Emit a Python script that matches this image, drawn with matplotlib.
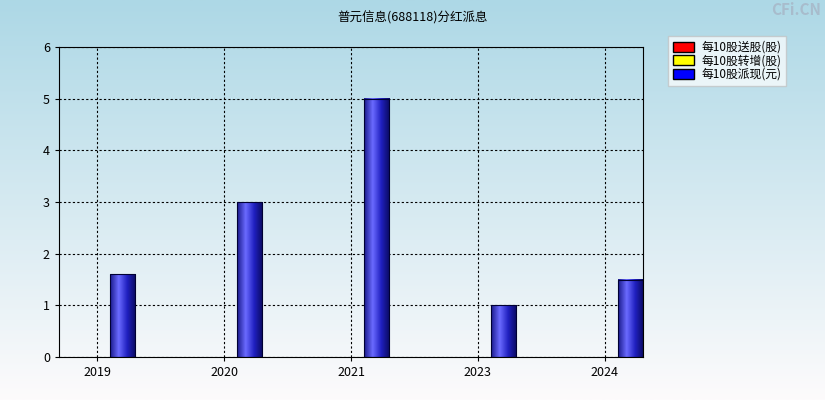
import matplotlib
matplotlib.use("Agg")
import matplotlib.pyplot as plt
import numpy as np
from matplotlib.colors import LinearSegmentedColormap
from matplotlib.patches import Patch

plt.rcParams['font.family'] = ['Noto Sans CJK SC', 'DejaVu Sans']

years = ['2019', '2020', '2021', '2023', '2024']
song = [0, 0, 0, 0, 0]
zhuan = [0, 0, 0, 0, 0]
pai = [1.6, 3.0, 5.0, 1.0, 1.5]

fig = plt.figure(figsize=(8.25, 4.0), dpi=100)
bg = fig.add_axes([0, 0, 1, 1], zorder=-10)
grad = np.linspace(0, 1, 256).reshape(-1, 1)
bgcmap = LinearSegmentedColormap.from_list('bg', ['#fdfbfc', '#add8e6'])
bg.imshow(grad, aspect='auto', cmap=bgcmap, origin='lower', extent=[0, 1, 0, 1])
bg.axis('off')

ax = fig.add_axes([59/825, 43/400, 584/825, 310/400])
ax.patch.set_alpha(0)
x = np.arange(len(years))
w = 0.2
barcmap = LinearSegmentedColormap.from_list('bar', ['#1a1a8c', '#6a6aff', '#2020c0', '#0a0a60'])
hgrad = np.linspace(0, 1, 64).reshape(1, -1)
for xi, v in zip(x, pai):
    if v > 0:
        l = xi + 0.2 - w / 2
        ax.imshow(hgrad, aspect='auto', cmap=barcmap, extent=[l, l + w, 0, v], zorder=2)
        ax.add_patch(plt.Rectangle((l, 0), w, v, fill=False, ec='#000033', lw=0.8, zorder=3))
for xi, v in zip(x, song):
    if v > 0:
        ax.bar(xi - 0.2, v, w, color='red', ec='black', zorder=2)
for xi, v in zip(x, zhuan):
    if v > 0:
        ax.bar(xi, v, w, color='yellow', ec='black', zorder=2)

ax.set_xlim(-0.3, 4.3)
ax.set_ylim(0, 6)
ax.set_xticks(x)
ax.set_xticklabels(years)
ax.set_yticks(range(7))
ax.grid(True, color='black', linestyle=(0, (2, 2)), lw=0.8)
ax.set_axisbelow(True)
ax.tick_params(labelsize=9, length=3)
for s in ax.spines.values():
    s.set_color('black')

fig.text(0.5, 0.955, '普元信息(688118)分红派息', ha='center', va='center', fontsize=9)
fig.text(0.995, 0.975, 'CFi.CN', ha='right', va='center', fontsize=11, color='#a8bccc', fontweight='bold')

handles = [Patch(fc='red', ec='black'), Patch(fc='yellow', ec='black'), Patch(fc='blue', ec='black')]
leg = fig.legend(handles, ['每10股送股(股)', '每10股转增(股)', '每10股派现(元)'],
                 loc='upper left', bbox_to_anchor=(668/825, 1 - 36/400), fontsize=8.5,
                 frameon=True, fancybox=False, borderpad=0.4, labelspacing=0.05,
                 handlelength=1.8, handleheight=0.9, handletextpad=0.6, borderaxespad=0)
leg.get_frame().set_edgecolor('#c0c0c0')
leg.get_frame().set_facecolor('white')
leg.get_frame().set_alpha(0.7)
leg.get_frame().set_boxstyle('square', pad=0)

fig.savefig('out.png', dpi=100)
